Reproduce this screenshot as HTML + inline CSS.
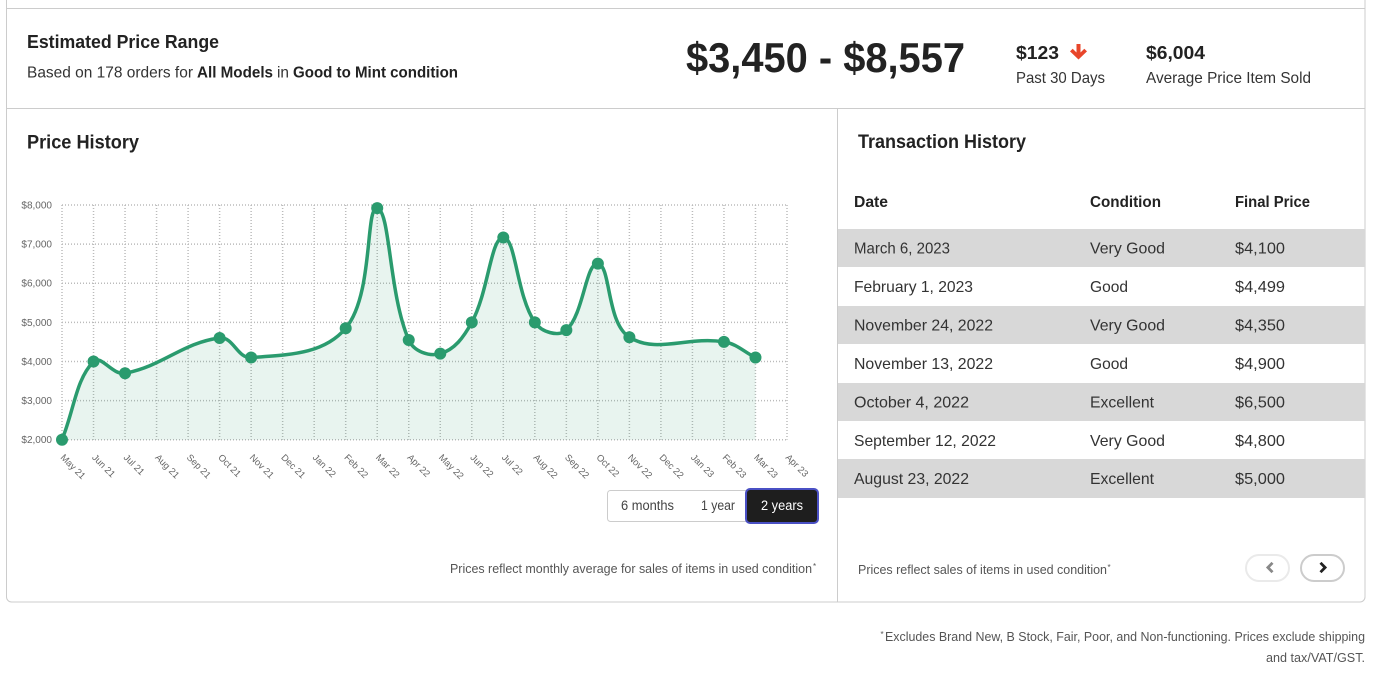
<!DOCTYPE html>
<html lang="en">
<head>
<meta charset="utf-8">
<title>Estimated Price Range</title>
<style>
html,body{margin:0;padding:0;background:#fff;width:1375px;height:677px;overflow:hidden}
svg{display:block}
text{font-family:"Liberation Sans",sans-serif;fill:#333;font-size:16px}
.b{font-weight:700;fill:#222}
.r{fill:#333}
.note{font-size:13px;fill:#555}
.tick{font-size:10px;fill:#666}
.xtick{font-size:9.4px;fill:#666}
.btn{font-size:13.5px;fill:#444}
</style>
</head>
<body>
<svg id="page" width="1375" height="677" viewBox="0 0 1375 677" xmlns="http://www.w3.org/2000/svg">
  <!-- card frame -->
  <path d="M6.5 0V597a5 5 0 0 0 5 5H1360a5 5 0 0 0 5-5V0" fill="#fff" stroke="#ccc" stroke-width="1"/>
  <line x1="6" y1="8.5" x2="1365" y2="8.5" stroke="#ccc"/>
  <line x1="6" y1="108.5" x2="1365" y2="108.5" stroke="#ccc"/>
  <line x1="837.5" y1="108" x2="837.5" y2="602" stroke="#ccc"/>

  <!-- summary -->
  <text class="b" x="27" y="48" style="font-size:18px" textLength="192" lengthAdjust="spacingAndGlyphs">Estimated Price Range</text>
  <text class="r" x="27" y="77.5" textLength="166" lengthAdjust="spacingAndGlyphs">Based on 178 orders for</text>
  <text class="b" x="197" y="77.5" textLength="76" lengthAdjust="spacingAndGlyphs">All Models</text>
  <text class="r" x="277" y="77.5" textLength="12" lengthAdjust="spacingAndGlyphs">in</text>
  <text class="b" x="293" y="77.5" textLength="165" lengthAdjust="spacingAndGlyphs">Good to Mint condition</text>
  <text class="b" x="686" y="72" style="font-size:42px" textLength="279" lengthAdjust="spacingAndGlyphs">$3,450 - $8,557</text>
  <text class="b" x="1016" y="59" style="font-size:18px" textLength="43" lengthAdjust="spacingAndGlyphs">$123</text>
  <path d="M1076.5 44h4v8.5l3.8-3.8 2.7 2.7-8.5 8.1-8.5-8.1 2.7-2.7 3.8 3.8z" fill="#e8452a"/>
  <text class="r" x="1016" y="83" textLength="89" lengthAdjust="spacingAndGlyphs">Past 30 Days</text>
  <text class="b" x="1146" y="59" style="font-size:18px" textLength="59" lengthAdjust="spacingAndGlyphs">$6,004</text>
  <text class="r" x="1146" y="83" textLength="165" lengthAdjust="spacingAndGlyphs">Average Price Item Sold</text>

  <!-- price history -->
  <text class="b" x="27" y="148.5" style="font-size:19px" textLength="112" lengthAdjust="spacingAndGlyphs">Price History</text>
  <g id="chart"></g>

  <g>
    <rect x="607.5" y="490.5" width="142" height="31" rx="3" fill="#fff" stroke="#ccc"/>
    <text class="btn" x="621" y="510" textLength="53" lengthAdjust="spacingAndGlyphs">6 months</text>
    <text class="btn" x="701" y="510" textLength="34" lengthAdjust="spacingAndGlyphs">1 year</text>
    <rect x="746" y="489" width="72" height="34" rx="4" fill="#1e1e1e" stroke="#4a50c4" stroke-width="2"/>
    <text class="btn" x="761" y="510" textLength="42" lengthAdjust="spacingAndGlyphs" style="fill:#fff">2 years</text>
  </g>
  <text class="note" x="450" y="573" textLength="362" lengthAdjust="spacingAndGlyphs">Prices reflect monthly average for sales of items in used condition</text>
  <text class="note" x="813" y="569" style="font-size:8px">*</text>

  <!-- transaction history -->
  <text class="b" x="858" y="148" style="font-size:19px" textLength="168" lengthAdjust="spacingAndGlyphs">Transaction History</text>
  <g>
    <text class="b" x="854" y="207" textLength="34" lengthAdjust="spacingAndGlyphs">Date</text>
    <text class="b" x="1090" y="207" textLength="71" lengthAdjust="spacingAndGlyphs">Condition</text>
    <text class="b" x="1235" y="207" textLength="75" lengthAdjust="spacingAndGlyphs">Final Price</text>

    <rect x="838" y="229" width="527" height="38" fill="#d8d8d8"/>
    <text class="r" x="854" y="253.5" textLength="96" lengthAdjust="spacingAndGlyphs">March 6, 2023</text>
    <text class="r" x="1090" y="253.5" textLength="75" lengthAdjust="spacingAndGlyphs">Very Good</text>
    <text class="r" x="1235" y="253.5" textLength="50" lengthAdjust="spacingAndGlyphs">$4,100</text>

    <text class="r" x="854" y="292" textLength="119" lengthAdjust="spacingAndGlyphs">February 1, 2023</text>
    <text class="r" x="1090" y="292" textLength="38" lengthAdjust="spacingAndGlyphs">Good</text>
    <text class="r" x="1235" y="292" textLength="50" lengthAdjust="spacingAndGlyphs">$4,499</text>

    <rect x="838" y="306" width="527" height="38" fill="#d8d8d8"/>
    <text class="r" x="854" y="330.5" textLength="139" lengthAdjust="spacingAndGlyphs">November 24, 2022</text>
    <text class="r" x="1090" y="330.5" textLength="75" lengthAdjust="spacingAndGlyphs">Very Good</text>
    <text class="r" x="1235" y="330.5" textLength="50" lengthAdjust="spacingAndGlyphs">$4,350</text>

    <text class="r" x="854" y="369" textLength="139" lengthAdjust="spacingAndGlyphs">November 13, 2022</text>
    <text class="r" x="1090" y="369" textLength="38" lengthAdjust="spacingAndGlyphs">Good</text>
    <text class="r" x="1235" y="369" textLength="50" lengthAdjust="spacingAndGlyphs">$4,900</text>

    <rect x="838" y="383" width="527" height="38" fill="#d8d8d8"/>
    <text class="r" x="854" y="407.5" textLength="115" lengthAdjust="spacingAndGlyphs">October 4, 2022</text>
    <text class="r" x="1090" y="407.5" textLength="64" lengthAdjust="spacingAndGlyphs">Excellent</text>
    <text class="r" x="1235" y="407.5" textLength="50" lengthAdjust="spacingAndGlyphs">$6,500</text>

    <text class="r" x="854" y="446" textLength="142" lengthAdjust="spacingAndGlyphs">September 12, 2022</text>
    <text class="r" x="1090" y="446" textLength="75" lengthAdjust="spacingAndGlyphs">Very Good</text>
    <text class="r" x="1235" y="446" textLength="50" lengthAdjust="spacingAndGlyphs">$4,800</text>

    <rect x="838" y="459" width="527" height="39" fill="#d8d8d8"/>
    <text class="r" x="854" y="484" textLength="115" lengthAdjust="spacingAndGlyphs">August 23, 2022</text>
    <text class="r" x="1090" y="484" textLength="64" lengthAdjust="spacingAndGlyphs">Excellent</text>
    <text class="r" x="1235" y="484" textLength="50" lengthAdjust="spacingAndGlyphs">$5,000</text>
  </g>
  <text class="note" x="858" y="574" textLength="249" lengthAdjust="spacingAndGlyphs">Prices reflect sales of items in used condition</text>
  <text class="note" x="1107.5" y="570" style="font-size:8px">*</text>

  <g>
    <rect x="1246" y="555" width="43" height="26" rx="13" fill="#fff" stroke="#eaeaea" stroke-width="2"/>
    <path d="M1272.5 562.8l-4.6 4.7 4.6 4.7" fill="none" stroke="#888" stroke-width="2.8"/>
  </g>
  <g>
    <rect x="1301" y="555" width="43" height="26" rx="13" fill="#fff" stroke="#ccc" stroke-width="2"/>
    <path d="M1320.5 562.8l4.6 4.7-4.6 4.7" fill="none" stroke="#222" stroke-width="2.8"/>
  </g>

  <text class="note" x="880.5" y="637" style="font-size:8px">*</text>
  <text class="note" x="885" y="641" textLength="480" lengthAdjust="spacingAndGlyphs">Excludes Brand New, B Stock, Fair, Poor, and Non-functioning. Prices exclude shipping</text>
  <text class="note" x="1266" y="662" textLength="99" lengthAdjust="spacingAndGlyphs">and tax/VAT/GST.</text>
</svg>
<script>
const monthLabels = ["May 21","Jun 21","Jul 21","Aug 21","Sep 21","Oct 21","Nov 21","Dec 21","Jan 22","Feb 22","Mar 22","Apr 22","May 22","Jun 22","Jul 22","Aug 22","Sep 22","Oct 22","Nov 22","Dec 22","Jan 23","Feb 23","Mar 23","Apr 23"];
const priceValues = [2000,4000,3700,null,null,4600,4100,null,null,4850,7920,4550,4200,5000,7170,5000,4800,6500,4620,null,null,4500,4100,null];
const yTickValues = [2000,3000,4000,5000,6000,7000,8000];
const yTickLabels = ["$2,000","$3,000","$4,000","$5,000","$6,000","$7,000","$8,000"];

const NS = "http://www.w3.org/2000/svg";
const chart = document.getElementById("chart");
const plotLeft = 62, plotRight = 787, plotTop = 205, plotBottom = 439.7;
const yMin = yTickValues[0], yMax = yTickValues[yTickValues.length - 1];
const TENSION = 0.4;

function xScale(i) { return plotLeft + i * (plotRight - plotLeft) / (monthLabels.length - 1); }
function yScale(v) { return plotBottom - (v - yMin) * (plotBottom - plotTop) / (yMax - yMin); }
function make(tag, attrs) {
  const el = document.createElementNS(NS, tag);
  for (const k in attrs) el.setAttribute(k, attrs[k]);
  return el;
}

yTickValues.forEach(function (v, i) {
  const y = yScale(v);
  const line = make("line", {x1: plotLeft, x2: plotRight, y1: y, y2: y, stroke: "#bbb", "stroke-width": 1.5, "stroke-dasharray": "1 2"});
  
  
  chart.appendChild(line);
  const label = make("text", {x: 52, y: y + 3.5, "text-anchor": "end", class: "tick"});
  
  
  label.textContent = yTickLabels[i];
  chart.appendChild(label);
});

monthLabels.forEach(function (m, i) {
  const x = xScale(i);
  const line = make("line", {x1: x, x2: x, y1: plotTop, y2: plotBottom, stroke: "#bbb", "stroke-width": 1.5, "stroke-dasharray": "1 2"});
  
  
  chart.appendChild(line);
  const lx = x - 2, ly = 458;
  const label = make("text", {x: lx, y: ly, class: "xtick", transform: "rotate(45 " + lx + " " + ly + ")"});
  
  
  label.textContent = m;
  chart.appendChild(label);
});

const pts = [];
priceValues.forEach(function (v, i) {
  if (v !== null) pts.push({x: xScale(i), y: yScale(v)});
});

function controlPoints(p0, p1, p2) {
  const d01 = Math.hypot(p1.x - p0.x, p1.y - p0.y);
  const d12 = Math.hypot(p2.x - p1.x, p2.y - p1.y);
  const total = d01 + d12 || 1;
  const fa = TENSION * d01 / total, fb = TENSION * d12 / total;
  return {
    inX: p1.x - fa * (p2.x - p0.x), inY: p1.y - fa * (p2.y - p0.y),
    outX: p1.x + fb * (p2.x - p0.x), outY: p1.y + fb * (p2.y - p0.y)
  };
}
const cps = pts.map(function (p, i) {
  return controlPoints(pts[Math.max(0, i - 1)], p, pts[Math.min(pts.length - 1, i + 1)]);
});
let d = "M" + pts[0].x + " " + pts[0].y;
for (let i = 1; i < pts.length; i++) {
  d += "C" + cps[i - 1].outX + " " + cps[i - 1].outY + " " + cps[i].inX + " " + cps[i].inY + " " + pts[i].x + " " + pts[i].y;
}
const last = pts[pts.length - 1];
const area = make("path", {d: d + "L" + last.x + " " + plotBottom + "L" + pts[0].x + " " + plotBottom + "Z", fill: "rgba(42,157,110,0.11)"});


chart.appendChild(area);
const priceLine = make("path", {d: d, fill: "none", stroke: "#2a9b6e", "stroke-width": 3.5});


chart.appendChild(priceLine);
pts.forEach(function (p) {
  const dot = make("circle", {cx: p.x, cy: p.y, r: 6, fill: "#2a9b6e"});
  
  
  chart.appendChild(dot);
});
</script>
</body>
</html>
